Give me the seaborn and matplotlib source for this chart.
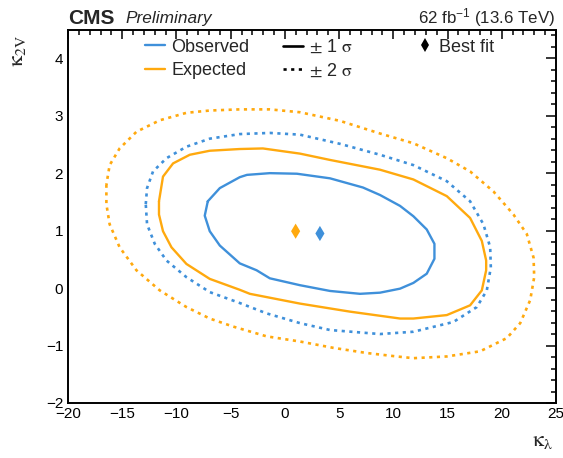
import numpy as np
import pandas as pd
import matplotlib
matplotlib.use("Agg")
import matplotlib.pyplot as plt
import seaborn as sns
from matplotlib.lines import Line2D
from matplotlib.font_manager import FontProperties
from matplotlib.ticker import MultipleLocator

# ---------------- data ----------------
obs1_x = [-7.11, -7.39, -6.93, -6.0, -4.16, -2.61, -1.39, 1.39, 4.16, 6.93, 8.77, 10.62,
          11.85, 13.08, 13.79, 13.79, 13.08, 11.85, 10.62, 8.77, 7.2, 4.16, 1.11, -1.39,
          -3.5, -4.16, -6.0]
obs1_y = [1.51, 1.26, 0.99, 0.74, 0.43, 0.31, 0.17, 0.05, -0.05, -0.10, -0.08, -0.01,
          0.09, 0.25, 0.51, 0.77, 1.02, 1.25, 1.43, 1.62, 1.75, 1.91, 1.99, 2.0,
          1.97, 1.93, 1.74]

exp1_x = [-11.61, -11.61, -11.24, -10.46, -9.08, -6.93, -4.16, -3.23, 1.39, 6.0, 10.62,
          11.85, 14.93, 17.08, 18.16, 18.56, 18.56, 18.16, 17.08, 14.93, 11.85, 8.77,
          4.16, 1.39, -2.03, -4.16, -6.93, -8.77, -10.31, -11.24]
exp1_y = [1.51, 1.28, 0.99, 0.71, 0.42, 0.16, -0.03, -0.10, -0.27, -0.41, -0.53,
          -0.53, -0.47, -0.30, -0.04, 0.31, 0.48, 0.82, 1.22, 1.60, 1.89, 2.06,
          2.23, 2.34, 2.43, 2.42, 2.39, 2.32, 2.17, 1.94]

obs2_x = [-12.83, -12.71, -12.16, -10.92, -9.08, -6.93, -4.16, -1.39, 1.39, 5.08, 8.77,
          11.85, 14.93, 17.08, 18.31, 18.93, 18.99, 18.62, 17.70, 15.54, 11.85, 8.77,
          4.16, 1.39, -1.69, -4.16, -6.93, -9.08, -10.92, -12.0, -12.71]
obs2_y = [1.46, 1.74, 2.03, 2.26, 2.46, 2.60, 2.68, 2.70, 2.67, 2.51, 2.32,
          2.14, 1.86, 1.51, 1.11, 0.71, 0.36, -0.04, -0.33, -0.59, -0.76, -0.80,
          -0.73, -0.61, -0.44, -0.26, -0.07, 0.19, 0.48, 0.77, 1.11]

exp2_x = [-16.46, -16.46, -16.16, -15.24, -13.69, -11.54, -9.08, -6.93, -4.77, -1.69,
          1.39, 4.46, 7.54, 10.31, 11.85, 14.93, 18.01, 20.47, 21.70, 22.62, 22.99,
          22.93, 22.31, 21.08, 19.24, 17.08, 14.93, 11.85, 8.77, 5.08, 1.39, -1.39,
          -4.16, -6.93, -9.08, -11.54, -13.69, -15.24, -16.16]
exp2_y = [1.80, 1.46, 1.11, 0.71, 0.31, -0.04, -0.33, -0.53, -0.67, -0.84,
          -0.93, -1.04, -1.13, -1.19, -1.22, -1.19, -1.10, -0.87, -0.61, -0.21, 0.19,
          0.53, 0.94, 1.28, 1.68, 2.03, 2.26, 2.52, 2.69, 2.91, 3.06, 3.11,
          3.11, 3.09, 3.05, 2.92, 2.72, 2.43, 2.14]

best_labels = ["Expected", "Observed"]
best_x = [0.99, 3.23]
best_y = [0.99, 0.95]

x_ticks = [-20, -15, -10, -5, 0, 5, 10, 15, 20, 25]
y_ticks = [-2, -1, 0, 1, 2, 3, 4]

BLUE = "#3f90da"
ORANGE = "#ffa90e"

# ---------------- style ----------------
sns.set_style("white")
plt.rcParams["font.family"] = ["Liberation Sans", "DejaVu Sans"]
plt.rcParams["mathtext.fontset"] = "custom"
plt.rcParams["mathtext.rm"] = "Liberation Sans"
plt.rcParams["mathtext.it"] = "Liberation Sans:italic"
plt.rcParams["mathtext.bf"] = "Liberation Sans:bold"
plt.rcParams["axes.linewidth"] = 1.4

fig = plt.figure(figsize=(5.63, 4.58), dpi=100)
ax = fig.add_axes([68 / 563, 1 - 403 / 458, (556 - 68) / 563, (403 - 29.5) / 458])

dots = (0, (1.2, 1.7))


def contour(xs, ys, color, ls):
    df = pd.DataFrame({"x": list(xs) + [xs[0]], "y": list(ys) + [ys[0]]})
    sns.lineplot(data=df, x="x", y="y", sort=False, estimator=None, color=color,
                 lw=1.7 if ls == "-" else 1.9, ls=ls, ax=ax)


contour(exp2_x, exp2_y, ORANGE, dots)
contour(obs2_x, obs2_y, BLUE, dots)
contour(exp1_x, exp1_y, ORANGE, "-")
contour(obs1_x, obs1_y, BLUE, "-")

bf = pd.DataFrame({"x": best_x, "y": best_y, "kind": best_labels})
sns.scatterplot(data=bf, x="x", y="y", hue="kind", palette={"Expected": ORANGE, "Observed": BLUE},
                marker="d", s=60, linewidth=0, legend=False, ax=ax)

ax.set_xlim(-20, 25)
ax.set_ylim(-2, 4.5)
ax.set_xticks(x_ticks)
ax.set_yticks(y_ticks)
ax.xaxis.set_minor_locator(MultipleLocator(1))
ax.yaxis.set_minor_locator(MultipleLocator(0.2))
ax.tick_params(which="both", direction="in", top=True, right=True, width=1.1,
               labelsize=11, colors="black")
ax.tick_params(axis="x", which="major", length=6.5, pad=3)
ax.tick_params(axis="x", which="minor", length=3.3)
ax.tick_params(axis="y", which="major", length=7.2, pad=3.5)
ax.tick_params(axis="y", which="minor", length=3.6)
for s in ax.spines.values():
    s.set_color("black")

ax.set_xlabel(r"$\mathrm{\kappa}_{\mathrm{\lambda}}$", fontsize=16, loc="right",
              math_fontfamily="stix")
ax.set_ylabel(r"$\mathrm{\kappa}_{\mathrm{2V}}$", fontsize=16, loc="top",
              math_fontfamily="stix")
ax.xaxis.set_label_coords(0.995, -0.072)
ax.yaxis.set_label_coords(-0.082, 0.985)

# header
fig.text(68 / 563, 1 - 23.5 / 458, "CMS", fontsize=15, fontweight="bold", va="baseline")
fig.text(125 / 563, 1 - 23.5 / 458, "Preliminary", fontsize=12.4, style="italic", va="baseline")
fig.text(555 / 563, 1 - 23.5 / 458, r"62 fb$^{-1}$ (13.6 TeV)", fontsize=12.2,
         ha="right", va="baseline")

# legends
lfont = FontProperties(family=["Liberation Sans", "DejaVu Sans"], size=13, math_fontfamily="stix")
top = 1 - 38.5 / 458
common = dict(frameon=False, loc="upper left", bbox_transform=fig.transFigure, borderpad=0,
              borderaxespad=0, handlelength=1.1, handletextpad=0.35, labelspacing=0.36,
              prop=lfont)
h1 = [Line2D([], [], color=BLUE, lw=1.7), Line2D([], [], color=ORANGE, lw=1.7)]
leg1 = ax.legend(h1, ["Observed", "Expected"], bbox_to_anchor=(145 / 563, top), **common)
ax.add_artist(leg1)
h2 = [Line2D([], [], color="black", lw=1.9), Line2D([], [], color="black", lw=1.9, ls=dots)]
leg2 = ax.legend(h2, [r"$\pm$ 1 $\mathrm{\sigma}$", r"$\pm$ 2 $\mathrm{\sigma}$"],
                 bbox_to_anchor=(283 / 563, top), **common)
ax.add_artist(leg2)
h3 = [Line2D([], [], color="black", marker="d", ms=7.5, mew=0, ls="none")]
common3 = dict(common)
common3["handlelength"] = 1.0
common3["handletextpad"] = 0.3
leg3 = ax.legend(h3, ["Best fit"], bbox_to_anchor=(416 / 563, top), **common3)

fig.savefig("out.png", dpi=100)
